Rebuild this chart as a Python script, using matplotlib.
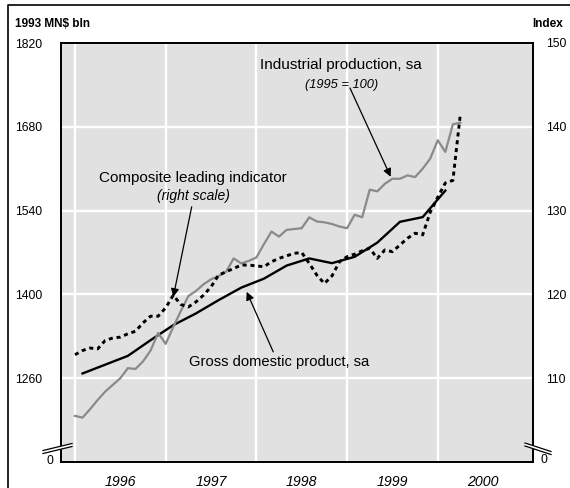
import numpy as np
import pandas as pd
import matplotlib
matplotlib.use('Agg')
import matplotlib.pyplot as plt
from matplotlib.lines import Line2D
from matplotlib.patches import Polygon
from matplotlib.transforms import blended_transform_factory

plt.rcParams['font.family'] = ['Liberation Sans', 'DejaVu Sans']

W, H = 570, 488

# monthly, Jan 1996 - Apr 2000, index (right scale)
industrial = [105.5, 105.3, 106.3, 107.4, 108.4, 109.2, 110.0, 111.2, 111.1, 112.0,
              113.3, 115.4, 114.1, 116.1, 118.0, 119.8, 120.4, 121.2, 121.8, 122.2,
              122.7, 124.3, 123.7, 124.0, 124.4, 126.0, 127.5, 126.9, 127.7, 127.8,
              127.9, 129.2, 128.7, 128.6, 128.4, 128.1, 127.9, 129.5, 129.2, 132.5,
              132.3, 133.2, 133.8, 133.8, 134.2, 134.0, 135.0, 136.2, 138.4, 137.0,
              140.3, 140.5]
leading = [112.8, 113.3, 113.6, 113.5, 114.5, 114.8, 114.9, 115.3, 115.6, 116.6,
           117.4, 117.4, 118.4, 119.9, 118.8, 118.5, 119.1, 119.9, 120.9, 122.3,
           122.7, 123.1, 123.5, 123.5, 123.4, 123.3, 123.9, 124.3, 124.6, 124.9,
           125.0, 123.7, 122.3, 121.3, 122.2, 123.9, 124.5, 124.8, 125.2, 125.5,
           124.3, 125.3, 125.1, 125.9, 126.7, 127.3, 127.1, 129.8, 131.6, 133.3,
           133.6, 141.6]
# quarterly GDP, 1996Q1 - 2000Q1, 1993 MN$ bln (left scale)
gdp = [1267.9, 1282.6, 1297.3, 1323.5, 1348.6, 1368.2, 1390.4, 1411.3, 1426.3,
       1448.1, 1460.1, 1452.2, 1462.8, 1486.5, 1521.3, 1529.1, 1573.4]

years = [1996, 1997, 1998, 1999, 2000]
left_ticks = [1260, 1400, 1540, 1680, 1820]
right_ticks = [110, 120, 130, 140, 150]

months = pd.date_range('1996-01-01', periods=len(industrial), freq='MS')
t_month = months.year + (months.month - 1) / 12
quarters = pd.date_range('1996-02-01', periods=len(gdp), freq='3MS')
t_quarter = quarters.year + (quarters.month - 1) / 12


def fx(px):
    return px / W


def fy(py):
    return 1 - py / H


fig = plt.figure(figsize=(W / 100, H / 100), dpi=100)
ax = fig.add_axes([fx(61), fy(462), (533 - 61) / W, (462 - 43) / H])
ax.set_facecolor('#e1e1e1')
ax.set_xlim(1995.846, 2001.05)
ax.set_ylim(1120, 1820)
ax.set_xticks(years)
ax.set_yticks(left_ticks)
ax.tick_params(axis='x', length=0, labelbottom=False)
ax.tick_params(axis='y', length=0, pad=13.7, labelsize=8.8)
ax.grid(True, color='white', lw=1.7)
ax.set_axisbelow(True)

ax2 = ax.twinx()
ax2.set_ylim(100, 150)
ax2.set_yticks(right_ticks)
ax2.tick_params(axis='y', length=0, pad=9.1, labelsize=8.8)
for a in (ax, ax2):
    for s in a.spines.values():
        s.set_linewidth(1.3)

ax.plot(t_quarter, gdp, color='black', lw=1.7, solid_joinstyle='miter')
ax2.plot(t_month, industrial, color='#8a8a8a', lw=1.6)
ax2.plot(t_month, leading, color='black', lw=2.1, linestyle=(0, (1.4, 1.3)))

# year labels between the gridlines
tr = blended_transform_factory(ax.transData, fig.transFigure)
for y in years:
    ax.text(y + 0.5, fy(486.5), str(y), transform=tr, ha='center',
            va='baseline', fontsize=10.2, style='italic')

# annotations (positions in left-axis data units)
dc = ax.transData
arrow = dict(arrowstyle='-|>', color='black', lw=0.9, mutation_scale=12,
             shrinkA=0, shrinkB=0)
ax2.text(1998.933, 1776, 'Industrial production, sa', transform=dc,
         ha='center', va='baseline', fontsize=11)
ax2.text(1998.94, 1744, '(1995 = 100)', transform=dc, ha='center',
         va='baseline', fontsize=9.3, style='italic')
ax2.annotate('', xy=(1999.481, 1596.5), xycoords=dc,
             xytext=(1999.032, 1744.8), textcoords=dc, arrowprops=arrow)

ax2.text(1997.298, 1588, 'Composite leading indicator', transform=dc,
         ha='center', va='baseline', fontsize=11)
ax2.text(1997.301, 1557, '(right scale)', transform=dc, ha='center',
         va='baseline', fontsize=10, style='italic')
ax2.annotate('', xy=(1997.084, 1395.9), xycoords=dc,
             xytext=(1997.287, 1546.4), textcoords=dc, arrowprops=arrow)

ax2.text(1998.249, 1281, 'Gross domestic product, sa', transform=dc,
         ha='center', va='baseline', fontsize=10.6)
ax2.annotate('', xy=(1997.893, 1404.3), xycoords=dc,
             xytext=(1998.186, 1304.0), textcoords=dc, arrowprops=arrow)

# axis break marks and zero labels
for (x0, y0, x1, y1) in [(43, 450.5, 72, 443.5), (525, 443, 551, 451.5)]:
    gap = Polygon([(fx(x0), fy(y0)), (fx(x1), fy(y1)),
                   (fx(x1), fy(y1 + 3)), (fx(x0), fy(y0 + 3))],
                  closed=True, transform=fig.transFigure, facecolor='white',
                  edgecolor='none', zorder=5)
    fig.add_artist(gap)
    for dy in (0, 3):
        fig.add_artist(Line2D([fx(x0), fx(x1)], [fy(y0 + dy), fy(y1 + dy)],
                              color='black', lw=0.9, zorder=6))
fig.text(fx(49.5), fy(461), '0', ha='center', va='center', fontsize=8.8)
fig.text(fx(544), fy(460), '0', ha='center', va='center', fontsize=8.8)

# headers and frame
fig.text(fx(15), fy(27), '1993 MN$ bln', ha='left', va='baseline',
         fontsize=8.5, weight='bold')
fig.text(fx(562.7), fy(27), 'Index', ha='right', va='baseline',
         fontsize=8.5, weight='bold')
fig.add_artist(Line2D([fx(8), fx(8), fx(570)], [fy(488), fy(5), fy(5)],
                      color='black', lw=1.2))

fig.savefig('out.png', dpi=100)
